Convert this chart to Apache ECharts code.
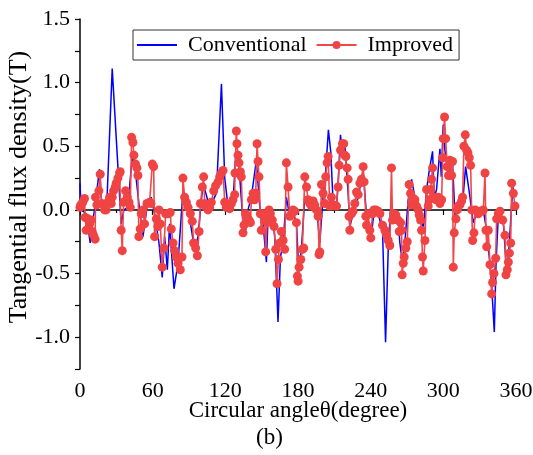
<!DOCTYPE html>
<html>
<head>
<meta charset="utf-8">
<script src="https://cdn.jsdelivr.net/npm/echarts@6/dist/echarts.min.js"></script>
<style>
  html, body { margin: 0; padding: 0; background: #fff; }
  #graph { width: 533px; height: 455px; }
</style>
</head>
<body>
<div id="graph"></div>
<script>
// angle (degree), tangential flux density (T)
var conventional = [
    [0, 0.21], [1, 0], [5.1, -0.03], [8.4, -0.26], [10.1, -0.11], [12, 0], [16.1, 0.32], [17.5, 0.10],
    [18.9, 0.02], [22.2, 0.06], [26.6, 1.11], [31.3, 0.34], [34, -0.11], [36.2, 0], [39.5, 0.02],
    [43.1, 0.42], [45.1, 0.36], [49.2, 0], [52, -0.21], [55.3, 0.02], [58.8, 0.10], [61.6, -0.03],
    [65.2, -0.26], [67.9, -0.53], [69.9, -0.21], [72.1, -0.47], [74, -0.11], [77.6, -0.62],
    [80.9, -0.42], [85, 0.15], [89.2, 0.02], [94.7, -0.32], [97.4, -0.21], [101.6, 0.21],
    [107.1, 0.02], [112.6, 0.13], [116.8, 0.99], [119.5, 0.25], [122.2, 0.03], [126.3, 0.05],
    [128.5, 0.42], [130.5, 0.45], [134.6, -0.10], [136.8, -0.16], [138.7, 0], [141.5, 0.10],
    [145.6, 0.39], [148.4, 0.03], [151.1, -0.10], [153.9, -0.41], [155.3, -0.05], [158, 0],
    [160.8, -0.21], [163.5, -0.88], [165.5, -0.37], [167.7, -0.26], [170.4, 0.10], [173.2, -0.05],
    [175.9, -0.03], [178.7, -0.10], [180.6, -0.47], [182.8, -0.31], [185.6, 0.10], [189.7, 0.08],
    [195.2, 0.03], [198, -0.26], [200.7, 0.10], [202.9, 0.31], [205.1, 0.63], [207.1, 0.45],
    [209, 0.05], [211.8, 0.03], [213.1, 0.21], [215.1, 0.59], [216.7, 0.42], [218.6, 0.52],
    [221.4, 0.13], [222.8, -0.13], [225.5, -0.03], [229.7, 0.10], [233.8, 0.31], [236.6, -0.05],
    [240.1, -0.24], [242.6, -0.03], [246.2, -0.03], [249.8, -0.16], [252.3, -1.04], [254.5, -0.31],
    [256.4, 0], [258, -0.05], [262.7, -0.07], [264.1, -0.26], [266.3, -0.42], [268.2, -0.26],
    [271, 0.08], [273.8, 0.24], [276.5, 0.10], [280.6, 0], [283.4, -0.16], [286.2, 0.16],
    [288.4, 0.31], [291.1, 0.46], [292.5, 0.10], [294.4, 0.16], [297.2, 0.48], [298.3, 0.26],
    [299.9, 0.67], [301.3, 0.47], [304, 0.26], [307.6, 0.37], [309.6, -0.05], [312.3, 0.03],
    [316.5, 0.12], [318.4, 0.34], [322, 0.10], [324.7, -0.10], [327.5, -0.03], [333, 0],
    [335.2, -0.13], [338.5, -0.42], [340.4, -0.68], [342.1, -0.96], [343.5, -0.42], [345.4, -0.04],
    [349.6, -0.10], [352.4, -0.52], [354.5, -0.26], [357.3, 0.18], [359.7, 0.10]
];

var improved = [
    [0, 0.02], [0.6, 0.04], [2.3, 0.06], [3.7, 0.09], [4.3, -0.06], [5.1, -0.16], [6.5, -0.07],
    [7.9, -0.11], [9.2, -0.08], [10.1, -0.17], [11.2, -0.20], [12.5, -0.23], [12.8, 0.10],
    [13.9, 0.04], [15.6, 0.15], [16.7, 0.28], [17.8, 0.05], [20.3, 0], [21.6, 0], [23, 0.06],
    [24.4, 0.10], [25.8, 0.05], [26.6, 0.10], [27.7, 0.15], [29.1, 0.18], [29.9, 0.21], [31.3, 0.25],
    [32.7, 0.29], [33.2, 0.30], [34, -0.16], [34.9, -0.32], [36, 0.06], [37.6, 0.15], [39, 0.10],
    [40.4, 0.06], [41.5, 0.02], [42.6, 0.57], [43.7, 0.53], [44.5, 0.43], [45.9, 0.36], [47, 0.33],
    [47.8, 0.27], [48.6, -0.21], [49.7, -0.15], [50.6, -0.03], [52, 0], [53.3, -0.11], [55.3, 0.05],
    [57.5, 0.06], [58.6, 0.05], [59.7, 0.36], [60.8, 0.34], [61.6, -0.21], [63, -0.07], [64.3, -0.13],
    [65.2, 0], [66.3, -0.11], [67.9, -0.45], [69.3, -0.30], [70.7, -0.03], [72.6, -0.03],
    [74.5, -0.02], [75.4, -0.15], [76.8, -0.26], [78.1, -0.32], [79.5, -0.37], [80.9, -0.42],
    [82.8, -0.47], [84.2, -0.37], [85, 0.25], [86.4, 0.10], [87.8, 0.06], [89.2, 0.02], [91.1, -0.03],
    [92.7, -0.09], [93.8, -0.26], [95.5, -0.30], [96.9, -0.36], [98.3, -0.17], [99.4, 0.05],
    [101, 0.18], [102.1, 0.26], [103, 0.05], [104.3, 0.02], [105.7, 0], [107.1, 0.02], [108.4, 0.06],
    [110.4, 0.15], [112, 0.19], [114, 0.22], [115.3, 0.26], [116.7, 0.29], [118.1, 0.31],
    [119.5, 0.06], [120.8, 0.02], [122.2, 0.03], [123.6, 0.01], [125, 0.05], [126.3, 0.08],
    [127.7, 0.12], [128, 0.29], [129.1, 0.62], [129.6, 0.52], [130.5, 0.43], [131.3, 0.37],
    [132.4, 0.30], [133.2, 0.26], [134.6, -0.18], [135.4, -0.12], [136.8, -0.03], [137.9, -0.05],
    [139.6, -0.08], [140.7, -0.10], [141.5, 0.08], [142.9, 0.13], [144.2, 0.08], [145.1, 0.13],
    [146.2, 0.52], [147, 0.38], [147.8, 0.26], [148.9, -0.03], [149.7, -0.16], [151.1, -0.03],
    [152.5, -0.05], [153.3, -0.33], [154.4, -0.10], [156.1, 0], [157.2, -0.03], [158.8, -0.08],
    [160.2, -0.13], [161.6, -0.31], [162.7, -0.58], [163.8, -0.39], [164.9, -0.26], [166.3, -0.17],
    [167.7, -0.24], [169, -0.31], [170.4, 0.37], [171.8, 0.18], [173.2, -0.05], [174.6, -0.03],
    [175.9, 0], [177.3, -0.01], [178.7, -0.10], [179.5, -0.52], [180.1, -0.56], [180.9, -0.45],
    [182.3, -0.39], [183.6, -0.31], [184.8, -0.30], [185.6, 0.26], [187, 0.18], [188.3, 0.08],
    [189.7, 0.05], [191.1, 0.03], [192.5, 0.07], [193.8, 0.04], [195.2, 0], [196.6, -0.05],
    [197.4, -0.35], [198, -0.33], [199.4, 0.20], [200.7, 0.13], [202.1, 0.05], [202.9, 0.26],
    [204, 0.37], [204.9, 0.42], [206.2, 0.03], [207.6, 0.10], [209, 0.04], [210.4, 0.03],
    [211.8, 0.03], [213.1, 0.18], [214, 0.35], [215.1, 0.47], [216.7, 0.52], [217.8, 0.52],
    [218.6, 0.43], [219.5, 0.42], [220.6, 0.33], [221.4, 0.24], [222.2, -0.05], [222.8, -0.16],
    [224.2, -0.03], [225.5, -0.01], [226.9, 0.05], [228.3, 0.14], [229.7, 0.12], [231.1, 0.21],
    [232.4, 0.24], [233.8, 0.34], [234.6, 0.22], [236, -0.05], [236.6, -0.12], [237.9, -0.03],
    [239.3, -0.16], [240.1, -0.22], [241.5, -0.03], [242.6, 0], [244.3, 0], [246.2, -0.01],
    [247.6, -0.03], [249.8, -0.12], [251.7, -0.16], [253.1, -0.20], [254.5, -0.24], [255.8, -0.28],
    [257.2, 0.33], [258, -0.08], [259.1, -0.03], [260.8, -0.04], [262.7, -0.08], [263.6, -0.17],
    [264.7, -0.10], [265.5, -0.16], [266, -0.51], [266.9, -0.42], [267.7, -0.37], [269.1, -0.30],
    [270.2, -0.25], [271.8, 0.20], [272.9, 0.13], [273.8, 0.04], [275.1, 0.09], [276.5, 0.08],
    [277.9, 0.03], [279.3, 0], [280.1, -0.04], [281.2, -0.08], [282, -0.16], [282.8, -0.37],
    [283.4, -0.48], [284.8, -0.24], [286.2, 0.16], [287.5, 0.03], [288.4, 0.08], [289.5, 0.16],
    [290.3, 0.24], [291.1, 0.33], [292.2, 0.10], [293.9, 0.08], [295.8, 0.10], [297.2, 0.05],
    [298.6, 0.08], [299.4, 0.41], [299.9, 0.56], [301, 0.73], [301.9, 0.56], [303.2, 0.34],
    [304.3, 0.27], [305.4, 0.39], [306.8, 0.27], [307.6, 0.38], [308.2, -0.45], [309, -0.18],
    [310.4, -0.07], [311.5, 0], [312.3, 0.03], [313.7, 0.04], [315.1, 0.07], [315.9, 0.10],
    [317, 0.50], [318.1, 0.59], [319.2, 0.47], [320.3, 0.45], [321.4, 0.41], [322.5, 0.35],
    [323.4, 0], [324.2, -0.24], [325.3, -0.18], [326.4, 0], [327.5, -0.01], [328.9, -0.03],
    [330.2, -0.01], [331.6, -0.01], [333, 0], [334.4, 0.29], [335.2, -0.16], [335.8, -0.29],
    [337.1, -0.16], [338.5, -0.43], [339.9, -0.66], [340.7, -0.57], [341.8, -0.50], [343.2, -0.38],
    [344, -0.07], [345.4, -0.03], [346.8, -0.01], [349, -0.08], [350.9, -0.20], [351.7, -0.51],
    [352.8, -0.47], [353.7, -0.41], [354.5, -0.34], [355.6, -0.26], [356.4, 0.21], [357.8, 0.13],
    [359.2, 0.03]
];

var serifFont = 'Liberation Serif';

var chart = echarts.init(document.getElementById('graph'), null, { renderer: 'canvas' });

var option = {
    animation: false,
    backgroundColor: '#fff',
    title: {
        text: '(b)',
        left: 256,
        top: 426,
        padding: 0,
        textStyle: { fontFamily: serifFont, fontSize: 23, fontWeight: 'normal', color: '#000' }
    },
    legend: {
        data: [
            { name: 'Conventional', itemStyle: { opacity: 0 } },
            { name: 'Improved' }
        ],
        left: 133,
        top: 30,
        padding: [4, 6, 4, 3],
        itemGap: 9,
        itemWidth: 40,
        itemHeight: 10,
        borderColor: '#333',
        borderWidth: 1,
        textStyle: { fontFamily: serifFont, fontSize: 22, color: '#000', padding: [0, 0, 0, 6] }
    },
    grid: { left: 80, right: 17, top: 19, bottom: 86, containLabel: false, outerBoundsMode: 'none' },
    xAxis: {
        type: 'value',
        min: 0,
        max: 360,
        interval: 60,
        name: 'Circular angleθ(degree)',
        nameLocation: 'middle',
        nameGap: 30,
        nameMoveOverlap: false,
        nameTextStyle: { fontFamily: serifFont, fontSize: 23, color: '#000' },
        axisLine: { lineStyle: { color: '#000', width: 1.5 } },
        axisTick: { length: 5, lineStyle: { color: '#000', width: 1.2 } },
        minorTick: { show: true, splitNumber: 2, length: 3, lineStyle: { color: '#000', width: 1.2 } },
        axisLabel: { fontFamily: serifFont, fontSize: 22, color: '#000', margin: 11 },
        splitLine: { show: false }
    },
    yAxis: {
        type: 'value',
        min: -1.25,
        max: 1.5,
        interval: 0.25,
        name: 'Tangential flux density(T)',
        nameLocation: 'middle',
        nameGap: 48,
        nameMoveOverlap: false,
        nameTextStyle: { fontFamily: serifFont, fontSize: 26, color: '#000', padding: [0, 0, 0, 14] },
        axisLine: { show: true, lineStyle: { color: '#000', width: 1.5 } },
        axisTick: { show: true, length: 5, lineStyle: { color: '#000', width: 1.2 } },
        axisLabel: {
            fontFamily: serifFont,
            fontSize: 22,
            color: '#000',
            margin: 10,
            formatter: function (v) {
                return Math.abs(v * 2 - Math.round(v * 2)) < 1e-6 ? v.toFixed(1) : '';
            }
        },
        splitLine: { show: false }
    },
    series: [{
        name: 'Conventional',
        type: 'line',
        data: conventional,
        symbol: 'none',
        lineStyle: { color: '#0000ff', width: 1.5 },
        itemStyle: { color: '#0000ff' },
        z: 2
    }, {
        name: 'Improved',
        type: 'line',
        data: improved,
        symbol: 'circle',
        symbolSize: 9,
        showAllSymbol: true,
        lineStyle: { color: '#f04848', width: 1.6 },
        itemStyle: { color: '#f04444' },
        z: 3
    }]
};

chart.setOption(option);
</script>
</body>
</html>
